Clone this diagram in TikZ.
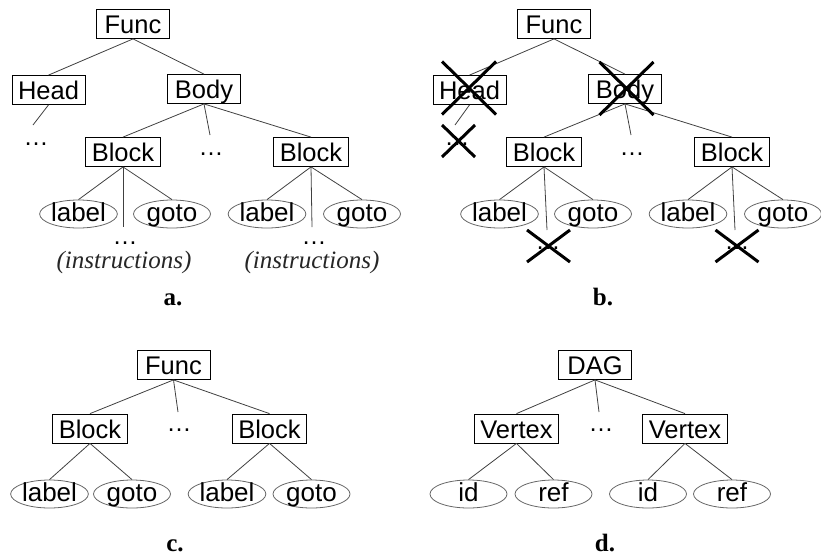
\documentclass[tikz,border=0pt]{standalone}
\usepackage{fontspec}
\setmainfont{Liberation Serif}
\newfontfamily\nodefont{Liberation Sans}
\usetikzlibrary{shapes.geometric}

\tikzset{
  tbox/.style={draw=black, line width=0.8pt, rectangle,
    minimum width=73pt, minimum height=29pt,
    inner xsep=6pt, inner ysep=3pt,
    text height=21pt, text depth=2pt,
    font=\nodefont\fontsize{25.5}{30}\selectfont},
  leaf/.style={ellipse, draw=black!60, line width=0.8pt,
    minimum width=77pt, minimum height=28pt, inner sep=0pt,
    text height=14pt, text depth=0pt,
    font=\nodefont\fontsize{26}{30}\selectfont},
  edge/.style={draw=black!75, line width=0.8pt},
  gap/.style={inner sep=0pt, anchor=base,
    font=\nodefont\fontsize{25}{30}\selectfont},
  instr/.style={inner sep=0pt, text=black!85,
    font=\fontsize{25}{30}\selectfont\itshape},
  caption/.style={anchor=base, inner sep=0pt,
    font=\fontsize{25}{30}\selectfont\bfseries},
  cross/.style={draw=black, line width=3pt},
  xmark/.pic={\path[cross] (-1,-1) -- (1,1) (-1,1) -- (1,-1);},
}

\begin{document}
\begin{tikzpicture}[x=1pt,y=-1pt]
\useasboundingbox (0,0) rectangle (821,555);

% ---------- a. ----------
\node[tbox] (Fa) at (133,24) {Func};
\node[tbox] (Ha) at (48.5,90) {Head};
\node[tbox] (Ba) at (204,89) {Body};
\node[tbox] (K1a) at (123,152) {Block};
\node[tbox] (K2a) at (311,152) {Block};
\coordinate (hda) at (33,125);
\node[gap] (HDa) at (36,145) {…};
\coordinate (bma) at (210,135);
\node[gap] (BMa) at (211,155) {…};
\node[leaf] (L1a) at (78.5,214) {label};
\node[leaf] (G1a) at (172,214) {goto};
\node[leaf] (L2a) at (267,214) {label};
\node[leaf] (G2a) at (362,214) {goto};
\coordinate (v1a) at (123,227);
\coordinate (v2a) at (312,227);
\node[gap] (D1a) at (125,244) {…};
\node[gap] (D2a) at (314,244) {…};
\node[instr] (I1a) at (124,262) {(instructions)};
\node[instr] (I2a) at (312,262) {(instructions)};
\node[caption] (capa) at (173,305) {a.};

\draw[edge] (Fa.south) -- (Ha.north);
\draw[edge] (Fa.south) -- (Ba.north);
\draw[edge] (Ha.south) -- (hda);
\draw[edge] (Ba.south) -- (K1a.north);
\draw[edge] (Ba.south) -- (bma);
\draw[edge] (Ba.south) -- (K2a.north);
\draw[edge] (K1a.south) -- (L1a.north);
\draw[edge] (K1a.south) -- (v1a);
\draw[edge] (K1a.south) -- (G1a.north);
\draw[edge] (K2a.south) -- (L2a.north);
\draw[edge] (K2a.south) -- (v2a);
\draw[edge] (K2a.south) -- (G2a.north);

% ---------- b. ----------
\node[tbox] (Fb) at (554,24) {Func};
\node[tbox] (Hb) at (469.5,90) {Head};
\node[tbox] (Bb) at (625,89) {Body};
\node[tbox] (K1b) at (544,152) {Block};
\node[tbox] (K2b) at (732,152) {Block};
\coordinate (hdb) at (455,125);
\node[gap] (HDb) at (457,145) {…};
\coordinate (bmb) at (631,135);
\node[gap] (BMb) at (632,155) {…};
\node[leaf] (L1b) at (499.5,214) {label};
\node[leaf] (G1b) at (593,214) {goto};
\node[leaf] (L2b) at (688,214) {label};
\node[leaf] (G2b) at (783,214) {goto};
\coordinate (v1b) at (547,230);
\coordinate (v2b) at (735,230);
\node[gap] (D1b) at (548,249) {…};
\node[gap] (D2b) at (737,249) {…};
\node[caption] (capb) at (603,305) {b.};

\draw[edge] (Fb.south) -- (Hb.north);
\draw[edge] (Fb.south) -- (Bb.north);
\draw[edge] (Hb.south) -- (hdb);
\draw[edge] (Bb.south) -- (K1b.north);
\draw[edge] (Bb.south) -- (bmb);
\draw[edge] (Bb.south) -- (K2b.north);
\draw[edge] (K1b.south) -- (L1b.north);
\draw[edge] (K1b.south) -- (v1b);
\draw[edge] (K1b.south) -- (G1b.north);
\draw[edge] (K2b.south) -- (L2b.north);
\draw[edge] (K2b.south) -- (v2b);
\draw[edge] (K2b.south) -- (G2b.north);

% crossed-out parts
\pic[xscale=27,yscale=26.5] at (469,88) {xmark};
\pic[xscale=27,yscale=26.5] at (626.5,88.5) {xmark};
\pic[xscale=16.5,yscale=16] at (458.5,141) {xmark};
\pic[xscale=21.5,yscale=16] at (548.5,246) {xmark};
\pic[xscale=21.5,yscale=16] at (737,246) {xmark};

% ---------- c. ----------
\node[tbox] (Fc) at (173.5,365) {Func};
\node[tbox] (K1c) at (90,428.5) {Block};
\node[tbox] (K2c) at (269.5,428.5) {Block};
\coordinate (bmc) at (178,412);
\node[gap] (BMc) at (179,431) {…};
\node[leaf] (L1c) at (49.5,494) {label};
\node[leaf] (G1c) at (132,494) {goto};
\node[leaf] (L2c) at (227,494) {label};
\node[leaf] (G2c) at (311.5,494) {goto};
\node[caption] (capc) at (175,551) {c.};

\draw[edge] (Fc.south) -- (K1c.north);
\draw[edge] (Fc.south) -- (bmc);
\draw[edge] (Fc.south) -- (K2c.north);
\draw[edge] (K1c.south) -- (L1c.north);
\draw[edge] (K1c.south) -- (G1c.north);
\draw[edge] (K2c.south) -- (L2c.north);
\draw[edge] (K2c.south) -- (G2c.north);

% ---------- d. ----------
\node[tbox] (Dd) at (595,365) {DAG};
\node[tbox] (V1d) at (516.5,428.5) {Vertex};
\node[tbox] (V2d) at (685,428.5) {Vertex};
\coordinate (bmd) at (599,412);
\node[gap] (BMd) at (601,431) {…};
\node[leaf] (I1d) at (468.5,494) {id};
\node[leaf] (R1d) at (553.5,494) {ref};
\node[leaf] (I2d) at (648,494) {id};
\node[leaf] (R2d) at (732,494) {ref};
\node[caption] (capd) at (605,551) {d.};

\draw[edge] (Dd.south) -- (V1d.north);
\draw[edge] (Dd.south) -- (bmd);
\draw[edge] (Dd.south) -- (V2d.north);
\draw[edge] (V1d.south) -- (I1d.north);
\draw[edge] (V1d.south) -- (R1d.north);
\draw[edge] (V2d.south) -- (I2d.north);
\draw[edge] (V2d.south) -- (R2d.north);
\end{tikzpicture}
\end{document}
